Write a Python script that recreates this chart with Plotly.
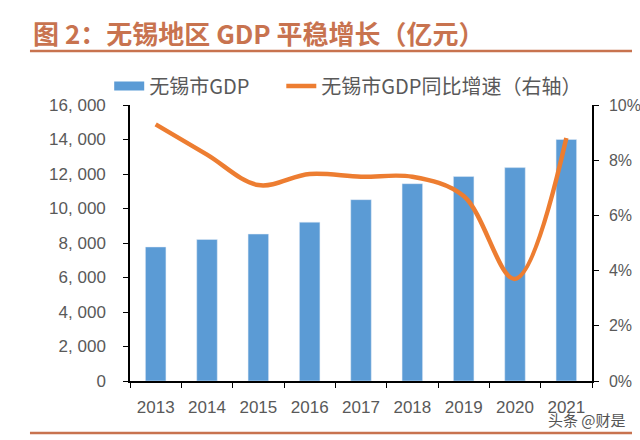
import plotly.graph_objects as go

years = ["2013", "2014", "2015", "2016", "2017", "2018", "2019", "2020", "2021"]
gdp = [7770, 8205, 8518, 9210, 10512, 11439, 11852, 12370, 14003]
growth = [0.093, 0.082, 0.071, 0.075, 0.074, 0.074, 0.067, 0.037, 0.088]
left_ticks = [0, 2000, 4000, 6000, 8000, 10000, 12000, 14000, 16000]
left_text = ["0", "2, 000", "4, 000", "6, 000", "8, 000", "10, 000", "12, 000", "14, 000", "16, 000"]
right_ticks = [0, 0.02, 0.04, 0.06, 0.08, 0.10]
right_text = ["0%", "2%", "4%", "6%", "8%", "10%"]

BLUE = "#5B9BD5"
ORANGE = "#ED7D31"
TITLE_C = "#C8734F"
GRAY = "#595959"
NUMF = "Liberation Sans, Arial, sans-serif"
CJK = "Noto Sans CJK SC, sans-serif"

fig = go.Figure()
fig.add_trace(go.Bar(x=years, y=gdp, marker_color=BLUE, showlegend=False, name="无锡市GDP"))
# legend-only entry drawn as a wide blue bar
fig.add_trace(go.Scatter(x=[None], y=[None], mode="lines", line=dict(color=BLUE, width=9),
                         name="无锡市GDP" + "\u00a0" * 6, showlegend=True))
fig.add_trace(go.Scatter(x=years, y=growth, mode="lines", yaxis="y2",
                         line=dict(color=ORANGE, width=4.5, shape="spline", smoothing=1.0),
                         name="无锡市GDP同比增速（右轴）"))

fig.update_layout(
    width=640, height=440,
    margin=dict(l=130, r=48, t=105, b=59, autoexpand=False),
    paper_bgcolor="white", plot_bgcolor="white",
    bargap=0.6,
    title=dict(text="<b>图 2：无锡地区 GDP 平稳增长（亿元）</b>", x=33/640, xanchor="left",
               xref="container", y=1-35/440, yanchor="middle", yref="container",
               font=dict(family=CJK, size=26, color=TITLE_C)),
    legend=dict(orientation="h", x=-0.045, xanchor="left", y=(381-86)/276, yanchor="middle",
                font=dict(family=CJK, size=20, color=GRAY), bgcolor="rgba(0,0,0,0)",
                itemwidth=30, tracegroupgap=0),
    xaxis=dict(type="category", showline=True, linecolor="black", linewidth=1.5,
               ticks="outside", tickson="boundaries", ticklen=5, tickcolor="black",
               tickfont=dict(family=NUMF, size=17, color=GRAY), showgrid=False,
               ticklabelstandoff=10, automargin=False),
    yaxis=dict(range=[0, 16000], tickvals=left_ticks, ticktext=left_text, showline=True,
               linecolor="black", linewidth=1.5, ticks="outside", ticklen=5, tickcolor="black",
               tickfont=dict(family=NUMF, size=17, color=GRAY), showgrid=False, zeroline=False,
               ticklabelstandoff=14, automargin=False),
    yaxis2=dict(range=[0, 0.10], tickvals=right_ticks, ticktext=right_text, overlaying="y",
                side="right", showline=True, linecolor="black", linewidth=1.5, ticks="outside",
                ticklen=5, tickcolor="black", tickfont=dict(family=NUMF, size=16, color=GRAY),
                showgrid=False, zeroline=False, ticklabelstandoff=7, automargin=False),
)

fig.add_shape(type="line", xref="paper", yref="paper", x0=-0.2165, x1=1.0866, y0=1.1957, y1=1.1957,
              line=dict(color=TITLE_C, width=2.5))
fig.add_shape(type="line", xref="paper", yref="paper", x0=-0.2165, x1=1.0866, y0=-0.1884, y1=-0.1884,
              line=dict(color=TITLE_C, width=2.5))
fig.add_annotation(text="头条 @财是", xref="paper", yref="paper", x=1.078, y=-0.1377,
                   xanchor="right", yanchor="middle", showarrow=False,
                   font=dict(family=CJK, size=15, color="#555555"))

fig.write_html("out.html")
